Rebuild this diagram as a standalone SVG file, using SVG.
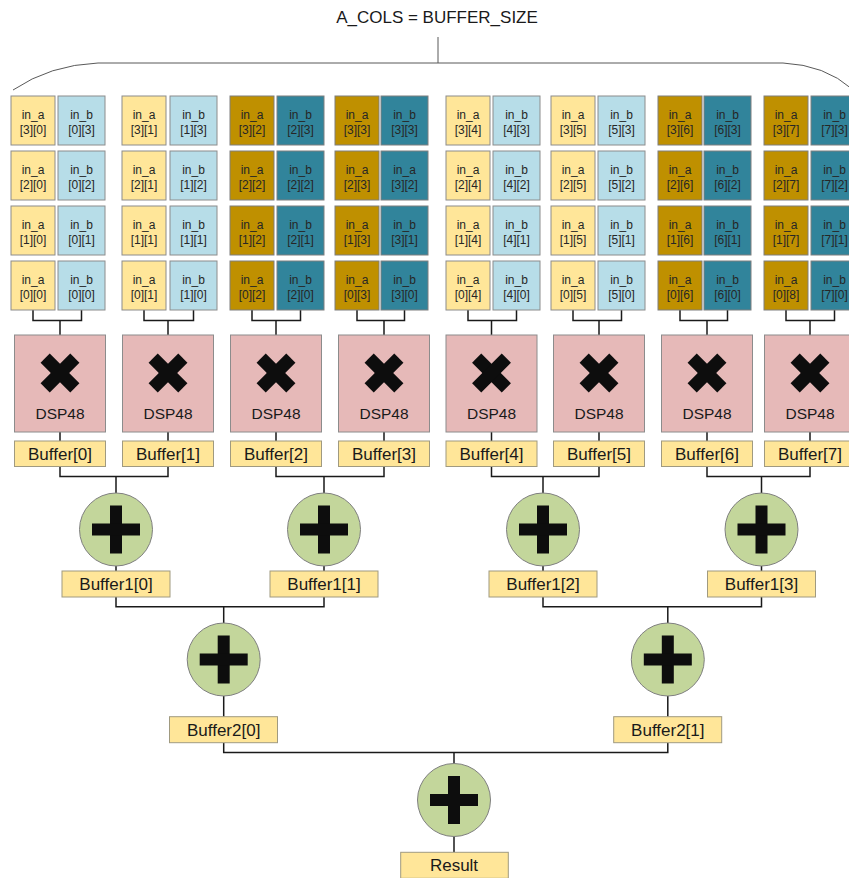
<svg xmlns="http://www.w3.org/2000/svg" width="849" height="878" viewBox="0 0 849 878">
<style>
.la{fill:#FFE699;stroke:#8c8c8c;stroke-width:1}
.lb{fill:#B7DDE8;stroke:#8c8c8c;stroke-width:1}
.da{fill:#BF9000;stroke:#7f7f7f;stroke-width:1}
.db{fill:#31849B;stroke:#7f7f7f;stroke-width:1}
.ct{font-family:"Liberation Sans",Arial,sans-serif;font-size:12px;fill:#262626;text-anchor:middle}
.dsp{fill:#E6B9B8;stroke:#8c8c8c;stroke-width:1}
.dt{font-family:"Liberation Sans",Arial,sans-serif;font-size:15.5px;fill:#1a1a1a;text-anchor:middle}
.buf{fill:#FFE699;stroke:#a09a80;stroke-width:1}
.bt{font-family:"Liberation Sans",Arial,sans-serif;font-size:17px;fill:#1a1a1a;text-anchor:middle}
.add{fill:#C3D69B;stroke:#7f7f7f;stroke-width:1}
.sym{fill:#0d0d0d}
.wire{fill:none;stroke:#1a1a1a;stroke-width:1.5}
.title{font-family:"Liberation Sans",Arial,sans-serif;font-size:17px;fill:#1a1a1a;text-anchor:middle}
</style>
<defs>
<g id="xsym"><rect class="sym" x="-21" y="-6.5" width="42" height="13" transform="rotate(45)"/><rect class="sym" x="-21" y="-6.5" width="42" height="13" transform="rotate(-45)"/></g>
<g id="psym"><rect class="sym" x="-6" y="-24" width="12" height="48"/><rect class="sym" x="-24" y="-6" width="48" height="12"/></g>
</defs>

<g id="title">
<text class="title" x="437" y="23">A_COLS = BUFFER_SIZE</text>
<path d="M438 37 V63 M13 90 Q50 65 98 63 L783 63 Q825 65 852 89" fill="none" stroke="#595959" stroke-width="1"/>
</g>

<g id="connectors" class="wire">
<path d="M33 310V320.5H81.5V310M60 320.5V335"/>
<path d="M144 310V320.5H193.5V310M168 320.5V335"/>
<path d="M252 310V320.5H300.5V310M276 320.5V335"/>
<path d="M357 310V320.5H404.5V310M384 320.5V335"/>
<path d="M468 310V320.5H516.5V310M491.5 320.5V335"/>
<path d="M573 310V320.5H621.5V310M599 320.5V335"/>
<path d="M680 310V320.5H727.5V310M707 320.5V335"/>
<path d="M786 310V320.5H834.5V310M810 320.5V335"/>
<path d="M60 432V441M168 432V441M276 432V441M384 432V441M491.5 432V441M599 432V441M707 432V441M810 432V441"/>
<path d="M60 466.5V476.5H168V466.5M116 476.5V493"/>
<path d="M276 466.5V476.5H384V466.5M324 476.5V493"/>
<path d="M491.5 466.5V476.5H599V466.5M543 476.5V493"/>
<path d="M707 466.5V476.5H810V466.5M761.5 476.5V493"/>
<path d="M116 566V571M324 566V571M543 566V571M761.5 566V571"/>
<path d="M116 597V606.7H324V597M223.7 606.7V623"/>
<path d="M543 597V606.7H761.5V597M667.8 606.7V623"/>
<path d="M223.7 696V716.7M667.8 696V716.7"/>
<path d="M223.7 742.7V752.5H667.8V742.7M454 752.5V763.5"/>
<path d="M454 836.5V852.3"/>
</g>

<!-- column 0 -->
<g id="a_3_0"><rect class="la" x="11" y="96" width="44" height="49"/><text class="ct" x="33" y="118.5">in_a<tspan x="33" dy="15">[3][0]</tspan></text></g>
<g id="b_0_3"><rect class="lb" x="58" y="96" width="47" height="49"/><text class="ct" x="81.5" y="118.5">in_b<tspan x="81.5" dy="15">[0][3]</tspan></text></g>
<g id="a_2_0"><rect class="la" x="11" y="151" width="44" height="49"/><text class="ct" x="33" y="173.5">in_a<tspan x="33" dy="15">[2][0]</tspan></text></g>
<g id="b_0_2"><rect class="lb" x="58" y="151" width="47" height="49"/><text class="ct" x="81.5" y="173.5">in_b<tspan x="81.5" dy="15">[0][2]</tspan></text></g>
<g id="a_1_0"><rect class="la" x="11" y="206" width="44" height="49"/><text class="ct" x="33" y="228.5">in_a<tspan x="33" dy="15">[1][0]</tspan></text></g>
<g id="b_0_1"><rect class="lb" x="58" y="206" width="47" height="49"/><text class="ct" x="81.5" y="228.5">in_b<tspan x="81.5" dy="15">[0][1]</tspan></text></g>
<g id="a_0_0"><rect class="la" x="11" y="261" width="44" height="49"/><text class="ct" x="33" y="283.5">in_a<tspan x="33" dy="15">[0][0]</tspan></text></g>
<g id="b_0_0"><rect class="lb" x="58" y="261" width="47" height="49"/><text class="ct" x="81.5" y="283.5">in_b<tspan x="81.5" dy="15">[0][0]</tspan></text></g>

<!-- column 1 -->
<g id="a_3_1"><rect class="la" x="122" y="96" width="44" height="49"/><text class="ct" x="144" y="118.5">in_a<tspan x="144" dy="15">[3][1]</tspan></text></g>
<g id="b_1_3"><rect class="lb" x="170" y="96" width="47" height="49"/><text class="ct" x="193.5" y="118.5">in_b<tspan x="193.5" dy="15">[1][3]</tspan></text></g>
<g id="a_2_1"><rect class="la" x="122" y="151" width="44" height="49"/><text class="ct" x="144" y="173.5">in_a<tspan x="144" dy="15">[2][1]</tspan></text></g>
<g id="b_1_2"><rect class="lb" x="170" y="151" width="47" height="49"/><text class="ct" x="193.5" y="173.5">in_b<tspan x="193.5" dy="15">[1][2]</tspan></text></g>
<g id="a_1_1"><rect class="la" x="122" y="206" width="44" height="49"/><text class="ct" x="144" y="228.5">in_a<tspan x="144" dy="15">[1][1]</tspan></text></g>
<g id="b_1_1"><rect class="lb" x="170" y="206" width="47" height="49"/><text class="ct" x="193.5" y="228.5">in_b<tspan x="193.5" dy="15">[1][1]</tspan></text></g>
<g id="a_0_1"><rect class="la" x="122" y="261" width="44" height="49"/><text class="ct" x="144" y="283.5">in_a<tspan x="144" dy="15">[0][1]</tspan></text></g>
<g id="b_1_0"><rect class="lb" x="170" y="261" width="47" height="49"/><text class="ct" x="193.5" y="283.5">in_b<tspan x="193.5" dy="15">[1][0]</tspan></text></g>

<!-- column 2 -->
<g id="a_3_2"><rect class="da" x="230" y="96" width="44" height="49"/><text class="ct" x="252" y="118.5">in_a<tspan x="252" dy="15">[3][2]</tspan></text></g>
<g id="b_2_3"><rect class="db" x="277" y="96" width="47" height="49"/><text class="ct" x="300.5" y="118.5">in_b<tspan x="300.5" dy="15">[2][3]</tspan></text></g>
<g id="a_2_2"><rect class="da" x="230" y="151" width="44" height="49"/><text class="ct" x="252" y="173.5">in_a<tspan x="252" dy="15">[2][2]</tspan></text></g>
<g id="b_2_2"><rect class="db" x="277" y="151" width="47" height="49"/><text class="ct" x="300.5" y="173.5">in_b<tspan x="300.5" dy="15">[2][2]</tspan></text></g>
<g id="a_1_2"><rect class="da" x="230" y="206" width="44" height="49"/><text class="ct" x="252" y="228.5">in_a<tspan x="252" dy="15">[1][2]</tspan></text></g>
<g id="b_2_1"><rect class="db" x="277" y="206" width="47" height="49"/><text class="ct" x="300.5" y="228.5">in_b<tspan x="300.5" dy="15">[2][1]</tspan></text></g>
<g id="a_0_2"><rect class="da" x="230" y="261" width="44" height="49"/><text class="ct" x="252" y="283.5">in_a<tspan x="252" dy="15">[0][2]</tspan></text></g>
<g id="b_2_0"><rect class="db" x="277" y="261" width="47" height="49"/><text class="ct" x="300.5" y="283.5">in_b<tspan x="300.5" dy="15">[2][0]</tspan></text></g>

<!-- column 3 -->
<g id="a_3_3"><rect class="da" x="335" y="96" width="44" height="49"/><text class="ct" x="357" y="118.5">in_a<tspan x="357" dy="15">[3][3]</tspan></text></g>
<g id="b_3_3"><rect class="db" x="381" y="96" width="47" height="49"/><text class="ct" x="404.5" y="118.5">in_b<tspan x="404.5" dy="15">[3][3]</tspan></text></g>
<g id="a_2_3"><rect class="da" x="335" y="151" width="44" height="49"/><text class="ct" x="357" y="173.5">in_a<tspan x="357" dy="15">[2][3]</tspan></text></g>
<g id="b_3_2"><rect class="db" x="381" y="151" width="47" height="49"/><text class="ct" x="404.5" y="173.5">in_a<tspan x="404.5" dy="15">[3][2]</tspan></text></g>
<g id="a_1_3"><rect class="da" x="335" y="206" width="44" height="49"/><text class="ct" x="357" y="228.5">in_a<tspan x="357" dy="15">[1][3]</tspan></text></g>
<g id="b_3_1"><rect class="db" x="381" y="206" width="47" height="49"/><text class="ct" x="404.5" y="228.5">in_b<tspan x="404.5" dy="15">[3][1]</tspan></text></g>
<g id="a_0_3"><rect class="da" x="335" y="261" width="44" height="49"/><text class="ct" x="357" y="283.5">in_a<tspan x="357" dy="15">[0][3]</tspan></text></g>
<g id="b_3_0"><rect class="db" x="381" y="261" width="47" height="49"/><text class="ct" x="404.5" y="283.5">in_b<tspan x="404.5" dy="15">[3][0]</tspan></text></g>

<!-- column 4 -->
<g id="a_3_4"><rect class="la" x="446" y="96" width="44" height="49"/><text class="ct" x="468" y="118.5">in_a<tspan x="468" dy="15">[3][4]</tspan></text></g>
<g id="b_4_3"><rect class="lb" x="493" y="96" width="47" height="49"/><text class="ct" x="516.5" y="118.5">in_b<tspan x="516.5" dy="15">[4][3]</tspan></text></g>
<g id="a_2_4"><rect class="la" x="446" y="151" width="44" height="49"/><text class="ct" x="468" y="173.5">in_a<tspan x="468" dy="15">[2][4]</tspan></text></g>
<g id="b_4_2"><rect class="lb" x="493" y="151" width="47" height="49"/><text class="ct" x="516.5" y="173.5">in_b<tspan x="516.5" dy="15">[4][2]</tspan></text></g>
<g id="a_1_4"><rect class="la" x="446" y="206" width="44" height="49"/><text class="ct" x="468" y="228.5">in_a<tspan x="468" dy="15">[1][4]</tspan></text></g>
<g id="b_4_1"><rect class="lb" x="493" y="206" width="47" height="49"/><text class="ct" x="516.5" y="228.5">in_b<tspan x="516.5" dy="15">[4][1]</tspan></text></g>
<g id="a_0_4"><rect class="la" x="446" y="261" width="44" height="49"/><text class="ct" x="468" y="283.5">in_a<tspan x="468" dy="15">[0][4]</tspan></text></g>
<g id="b_4_0"><rect class="lb" x="493" y="261" width="47" height="49"/><text class="ct" x="516.5" y="283.5">in_b<tspan x="516.5" dy="15">[4][0]</tspan></text></g>

<!-- column 5 -->
<g id="a_3_5"><rect class="la" x="551" y="96" width="44" height="49"/><text class="ct" x="573" y="118.5">in_a<tspan x="573" dy="15">[3][5]</tspan></text></g>
<g id="b_5_3"><rect class="lb" x="598" y="96" width="47" height="49"/><text class="ct" x="621.5" y="118.5">in_b<tspan x="621.5" dy="15">[5][3]</tspan></text></g>
<g id="a_2_5"><rect class="la" x="551" y="151" width="44" height="49"/><text class="ct" x="573" y="173.5">in_a<tspan x="573" dy="15">[2][5]</tspan></text></g>
<g id="b_5_2"><rect class="lb" x="598" y="151" width="47" height="49"/><text class="ct" x="621.5" y="173.5">in_b<tspan x="621.5" dy="15">[5][2]</tspan></text></g>
<g id="a_1_5"><rect class="la" x="551" y="206" width="44" height="49"/><text class="ct" x="573" y="228.5">in_a<tspan x="573" dy="15">[1][5]</tspan></text></g>
<g id="b_5_1"><rect class="lb" x="598" y="206" width="47" height="49"/><text class="ct" x="621.5" y="228.5">in_b<tspan x="621.5" dy="15">[5][1]</tspan></text></g>
<g id="a_0_5"><rect class="la" x="551" y="261" width="44" height="49"/><text class="ct" x="573" y="283.5">in_a<tspan x="573" dy="15">[0][5]</tspan></text></g>
<g id="b_5_0"><rect class="lb" x="598" y="261" width="47" height="49"/><text class="ct" x="621.5" y="283.5">in_b<tspan x="621.5" dy="15">[5][0]</tspan></text></g>

<!-- column 6 -->
<g id="a_3_6"><rect class="da" x="658" y="96" width="44" height="49"/><text class="ct" x="680" y="118.5">in_a<tspan x="680" dy="15">[3][6]</tspan></text></g>
<g id="b_6_3"><rect class="db" x="704" y="96" width="47" height="49"/><text class="ct" x="727.5" y="118.5">in_b<tspan x="727.5" dy="15">[6][3]</tspan></text></g>
<g id="a_2_6"><rect class="da" x="658" y="151" width="44" height="49"/><text class="ct" x="680" y="173.5">in_a<tspan x="680" dy="15">[2][6]</tspan></text></g>
<g id="b_6_2"><rect class="db" x="704" y="151" width="47" height="49"/><text class="ct" x="727.5" y="173.5">in_b<tspan x="727.5" dy="15">[6][2]</tspan></text></g>
<g id="a_1_6"><rect class="da" x="658" y="206" width="44" height="49"/><text class="ct" x="680" y="228.5">in_a<tspan x="680" dy="15">[1][6]</tspan></text></g>
<g id="b_6_1"><rect class="db" x="704" y="206" width="47" height="49"/><text class="ct" x="727.5" y="228.5">in_b<tspan x="727.5" dy="15">[6][1]</tspan></text></g>
<g id="a_0_6"><rect class="da" x="658" y="261" width="44" height="49"/><text class="ct" x="680" y="283.5">in_a<tspan x="680" dy="15">[0][6]</tspan></text></g>
<g id="b_6_0"><rect class="db" x="704" y="261" width="47" height="49"/><text class="ct" x="727.5" y="283.5">in_b<tspan x="727.5" dy="15">[6][0]</tspan></text></g>

<!-- column 7 -->
<g id="a_3_7"><rect class="da" x="764" y="96" width="44" height="49"/><text class="ct" x="786" y="118.5">in_a<tspan x="786" dy="15">[3][7]</tspan></text></g>
<g id="b_7_3"><rect class="db" x="811" y="96" width="47" height="49"/><text class="ct" x="834.5" y="118.5">in_b<tspan x="834.5" dy="15">[7][3]</tspan></text></g>
<g id="a_2_7"><rect class="da" x="764" y="151" width="44" height="49"/><text class="ct" x="786" y="173.5">in_a<tspan x="786" dy="15">[2][7]</tspan></text></g>
<g id="b_7_2"><rect class="db" x="811" y="151" width="47" height="49"/><text class="ct" x="834.5" y="173.5">in_b<tspan x="834.5" dy="15">[7][2]</tspan></text></g>
<g id="a_1_7"><rect class="da" x="764" y="206" width="44" height="49"/><text class="ct" x="786" y="228.5">in_a<tspan x="786" dy="15">[1][7]</tspan></text></g>
<g id="b_7_1"><rect class="db" x="811" y="206" width="47" height="49"/><text class="ct" x="834.5" y="228.5">in_b<tspan x="834.5" dy="15">[7][1]</tspan></text></g>
<g id="a_0_7"><rect class="da" x="764" y="261" width="44" height="49"/><text class="ct" x="786" y="283.5">in_a<tspan x="786" dy="15">[0][8]</tspan></text></g>
<g id="b_7_0"><rect class="db" x="811" y="261" width="47" height="49"/><text class="ct" x="834.5" y="283.5">in_b<tspan x="834.5" dy="15">[7][0]</tspan></text></g>

<!-- DSP48 multipliers -->
<g id="dsp0"><rect class="dsp" x="14.5" y="335" width="91" height="97"/><use href="#xsym" x="60" y="373"/><text class="dt" x="60" y="419">DSP48</text></g>
<g id="dsp1"><rect class="dsp" x="122.5" y="335" width="91" height="97"/><use href="#xsym" x="168" y="373"/><text class="dt" x="168" y="419">DSP48</text></g>
<g id="dsp2"><rect class="dsp" x="230.5" y="335" width="91" height="97"/><use href="#xsym" x="276" y="373"/><text class="dt" x="276" y="419">DSP48</text></g>
<g id="dsp3"><rect class="dsp" x="338.5" y="335" width="91" height="97"/><use href="#xsym" x="384" y="373"/><text class="dt" x="384" y="419">DSP48</text></g>
<g id="dsp4"><rect class="dsp" x="446" y="335" width="91" height="97"/><use href="#xsym" x="491.5" y="373"/><text class="dt" x="491.5" y="419">DSP48</text></g>
<g id="dsp5"><rect class="dsp" x="553.5" y="335" width="91" height="97"/><use href="#xsym" x="599" y="373"/><text class="dt" x="599" y="419">DSP48</text></g>
<g id="dsp6"><rect class="dsp" x="661.5" y="335" width="91" height="97"/><use href="#xsym" x="707" y="373"/><text class="dt" x="707" y="419">DSP48</text></g>
<g id="dsp7"><rect class="dsp" x="764.5" y="335" width="91" height="97"/><use href="#xsym" x="810" y="373"/><text class="dt" x="810" y="419">DSP48</text></g>

<!-- Buffers -->
<g id="buf0"><rect class="buf" x="14.5" y="441" width="91" height="25.5"/><text class="bt" x="60" y="459.5">Buffer[0]</text></g>
<g id="buf1"><rect class="buf" x="122.5" y="441" width="91" height="25.5"/><text class="bt" x="168" y="459.5">Buffer[1]</text></g>
<g id="buf2"><rect class="buf" x="230.5" y="441" width="91" height="25.5"/><text class="bt" x="276" y="459.5">Buffer[2]</text></g>
<g id="buf3"><rect class="buf" x="338.5" y="441" width="91" height="25.5"/><text class="bt" x="384" y="459.5">Buffer[3]</text></g>
<g id="buf4"><rect class="buf" x="446" y="441" width="91" height="25.5"/><text class="bt" x="491.5" y="459.5">Buffer[4]</text></g>
<g id="buf5"><rect class="buf" x="553.5" y="441" width="91" height="25.5"/><text class="bt" x="599" y="459.5">Buffer[5]</text></g>
<g id="buf6"><rect class="buf" x="661.5" y="441" width="91" height="25.5"/><text class="bt" x="707" y="459.5">Buffer[6]</text></g>
<g id="buf7"><rect class="buf" x="764.5" y="441" width="91" height="25.5"/><text class="bt" x="810" y="459.5">Buffer[7]</text></g>

<!-- adders level 1 -->
<g id="add1_0"><circle class="add" cx="116" cy="529.5" r="36.5"/><use href="#psym" x="116" y="529.5"/></g>
<g id="add1_1"><circle class="add" cx="324" cy="529.5" r="36.5"/><use href="#psym" x="324" y="529.5"/></g>
<g id="add1_2"><circle class="add" cx="543" cy="529.5" r="36.5"/><use href="#psym" x="543" y="529.5"/></g>
<g id="add1_3"><circle class="add" cx="761.5" cy="529.5" r="36.5"/><use href="#psym" x="761.5" y="529.5"/></g>

<g id="buf1_0"><rect class="buf" x="62" y="571" width="108" height="26"/><text class="bt" x="116" y="590">Buffer1[0]</text></g>
<g id="buf1_1"><rect class="buf" x="270" y="571" width="108" height="26"/><text class="bt" x="324" y="590">Buffer1[1]</text></g>
<g id="buf1_2"><rect class="buf" x="489" y="571" width="108" height="26"/><text class="bt" x="543" y="590">Buffer1[2]</text></g>
<g id="buf1_3"><rect class="buf" x="707.5" y="571" width="108" height="26"/><text class="bt" x="761.5" y="590">Buffer1[3]</text></g>

<!-- adders level 2 -->
<g id="add2_0"><circle class="add" cx="223.7" cy="659.5" r="36.5"/><use href="#psym" x="223.7" y="659.5"/></g>
<g id="add2_1"><circle class="add" cx="667.8" cy="659.5" r="36.5"/><use href="#psym" x="667.8" y="659.5"/></g>

<g id="buf2_0"><rect class="buf" x="169.5" y="716.7" width="108" height="26"/><text class="bt" x="223.7" y="735.7">Buffer2[0]</text></g>
<g id="buf2_1"><rect class="buf" x="613.7" y="716.7" width="108" height="26"/><text class="bt" x="667.8" y="735.7">Buffer2[1]</text></g>

<!-- final adder -->
<g id="add3"><circle class="add" cx="454" cy="800" r="36.5"/><use href="#psym" x="454" y="800"/></g>
<g id="result"><rect class="buf" x="400.7" y="852.3" width="107.6" height="26"/><text class="bt" x="454" y="871.3">Result</text></g>
</svg>
